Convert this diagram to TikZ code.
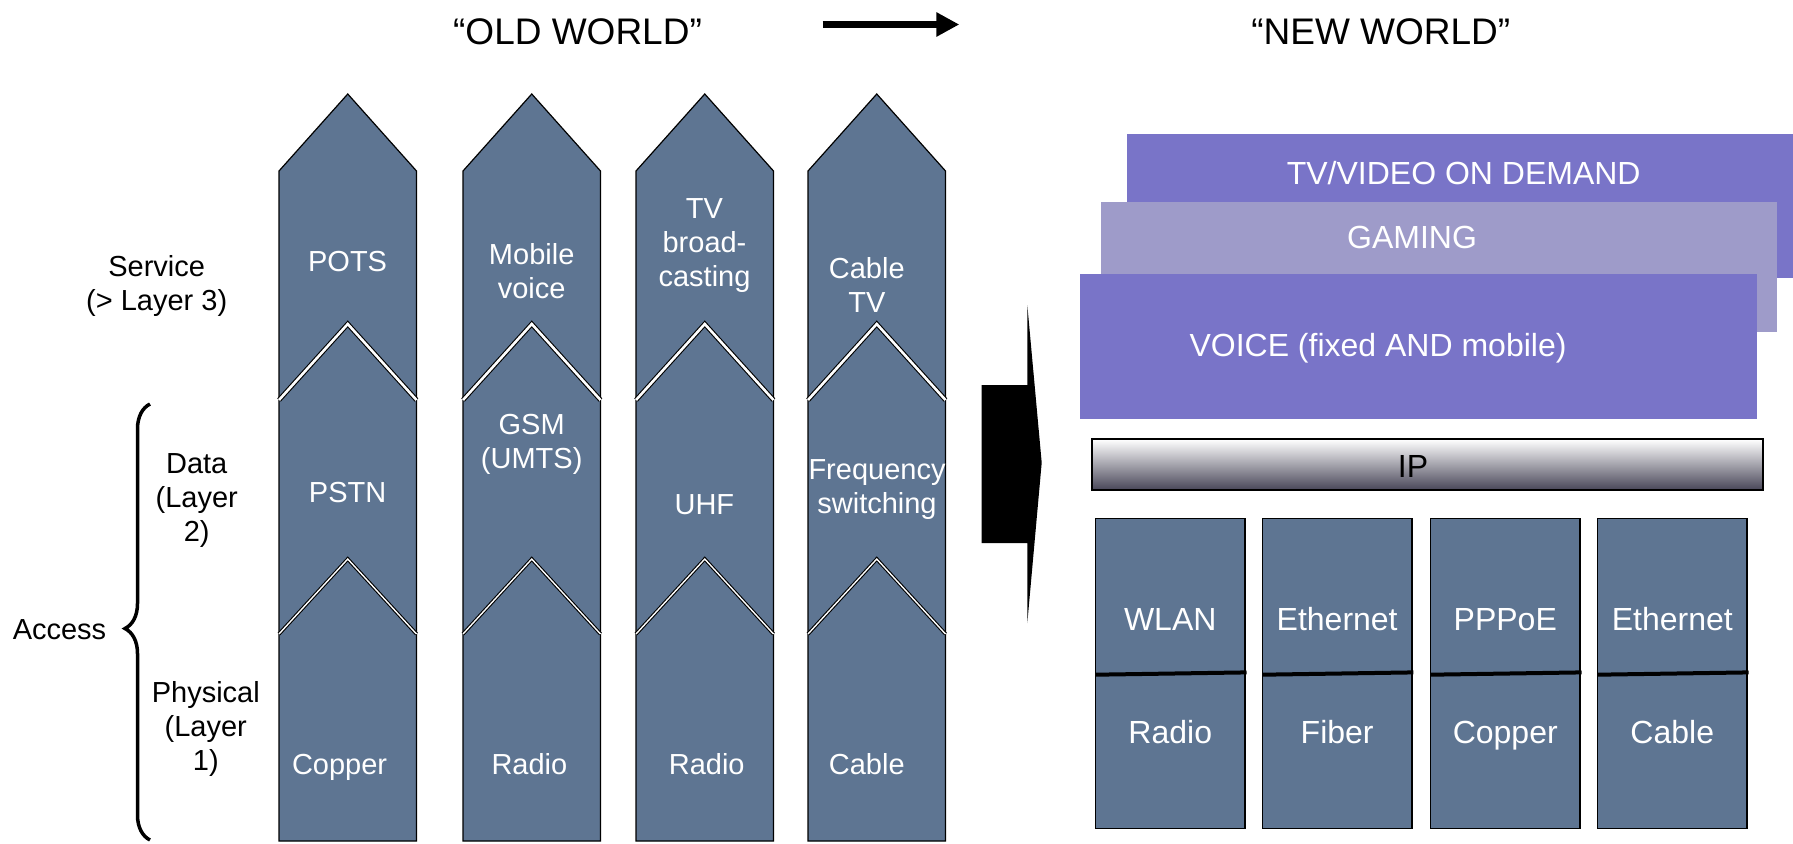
\documentclass[tikz,border=0pt]{standalone}
\usepackage{fontspec}
\setmainfont{Liberation Sans}
\usetikzlibrary{arrows.meta,decorations.pathreplacing}
\definecolor{slate}{RGB}{94,117,146}
\definecolor{violetbox}{RGB}{121,116,200}
\definecolor{lilac}{RGB}{158,155,201}
\definecolor{ipdark}{RGB}{72,70,88}
\definecolor{ipmid}{RGB}{205,205,210}

\begin{document}
\begin{tikzpicture}[x=1pt,y=-1pt,
  lbl/.style={font=\fontsize{29}{34}\selectfont, align=center, inner sep=0pt},
  wlbl/.style={lbl, text=white},
  oneline/.style={text height=20.8pt, text depth=0pt},
  rlbl/.style={font=\fontsize{32}{38}\selectfont, text=white, inner sep=0pt,
               text height=22.9pt, text depth=0pt},
  heading/.style={font=\fontsize{37}{44}\selectfont, inner sep=0pt},
  column/.style={fill=slate, draw=black, line width=1.2pt},
  seam/.style={draw=black, double=white, double distance=2.6pt, line width=1.1pt},
  thinseam/.style={draw=black, double=white, double distance=1.4pt, line width=1.1pt},
  layerbox/.style={fill=slate, draw=black, line width=1.6pt},
  servicebox/.style={fill=violetbox},
  divider/.style={draw=black, line width=4pt}]

\useasboundingbox (0,0) rectangle (1793,843);

% ---------- headings ----------
\node[heading] (old) at (577.5,32) {“OLD WORLD”};
\node[heading] (new) at (1380.8,32) {“NEW WORLD”};
\coordinate (ta) at (822.7,24.5);
\coordinate (tb) at (959.3,24.5);
\draw[line width=7.6pt, -{Triangle[length=23pt,width=23pt]}] (ta) -- (tb);

% ---------- old world: vertical stacks ----------
\foreach \xl in {279,463,636,808}{
  \path[column] (\xl,841) -- (\xl,171) -- ({\xl+68.75},94) -- ({\xl+137.5},171)
     -- ({\xl+137.5},841) -- cycle;
  \draw[seam] (\xl,400) -- ({\xl+68.75},324) -- ({\xl+137.5},400);
  \draw[thinseam] (\xl,634) -- ({\xl+68.75},559) -- ({\xl+137.5},634);
}

% service layer
\node[wlbl, oneline] (pots) at (347.6,260.7) {POTS};
\node[wlbl] (mobv)   at (531.7,271)   {Mobile\\voice};
\node[wlbl] (tvb)    at (704.5,246)   {TV\\broad-\\casting};
\node[wlbl] (catv)   at (866.8,284.7) {Cable\\TV};
% data layer
\node[wlbl, oneline] (pstn) at (347.6,491.7) {PSTN};
\node[wlbl] (gsm)    at (531.7,444.8) {GSM\\(UMTS)};
\node[wlbl, oneline] (uhf)  at (704.4,504.3) {UHF};
\node[wlbl] (fsw)    at (877,489.4)   {Frequency\\switching};
% physical layer
\node[wlbl, oneline] (copper) at (339.6,763.9) {Copper};
\node[wlbl, oneline] (radioa) at (529.4,763.9) {Radio};
\node[wlbl, oneline] (radiob) at (706.7,763.9) {Radio};
\node[wlbl, oneline] (cable)  at (866.8,763.9) {Cable};

% layer names
\node[lbl] (svc)  at (156.7,286) {Service\\(> Layer 3)};
\node[lbl] (data) at (196.7,501)   {Data\\(Layer\\2)};
\node[lbl] (phys) at (205.8,729)   {Physical\\(Layer\\1)};
\node[lbl, oneline] (acc) at (59.5,629) {Access};
\coordinate (bb) at (150,840);
\coordinate (bt) at (150,404);
\draw[line width=3.5pt, decorate,
      decoration={brace, amplitude=25pt, aspect=0.485}] (bb) -- (bt);

% ---------- transition arrow ----------
\fill (981.7,385) -- (1027.3,385) -- (1027.3,305) -- (1041.7,462.7)
      -- (1027.3,623) -- (1027.3,543) -- (981.7,543) -- cycle;

% ---------- new world ----------
\fill[servicebox] (1126.7,134) rectangle (1793,278);
\fill[lilac]      (1101,202)   rectangle (1776.6,331.7);
\fill[servicebox] (1080,274)   rectangle (1756.5,418.7);
\node[rlbl] (vod)   at (1463.7,172.7) {TV/VIDEO ON DEMAND};
\node[rlbl] (game)  at (1412,236.7)   {GAMING};
\node[rlbl] (voice) at (1378,345)     {VOICE (fixed AND mobile)};

\shade[top color=white, middle color=ipmid, bottom color=ipdark]
  (1092,439.3) rectangle (1763,490);
\draw[line width=2pt] (1092,439.3) rectangle (1763,490);
\node[rlbl, text=black] (ip) at (1413,466.5) {IP};

\foreach \xl/\up/\lo [count=\i] in {1095.5/WLAN/Radio, 1262.4/Ethernet/Fiber,
                                   1430.5/PPPoE/Copper, 1597.5/Ethernet/Cable}{
  \path[layerbox] (\xl,518.5) rectangle ({\xl+149.5},828.5);
  \draw[divider] (\xl,674.7) -- ({\xl+151},672.4);
  \node[rlbl] (up\i) at ({\xl+74.75},618.6) {\up};
  \node[rlbl] (lo\i) at ({\xl+74.75},731.8) {\lo};
}
\end{tikzpicture}
\end{document}
